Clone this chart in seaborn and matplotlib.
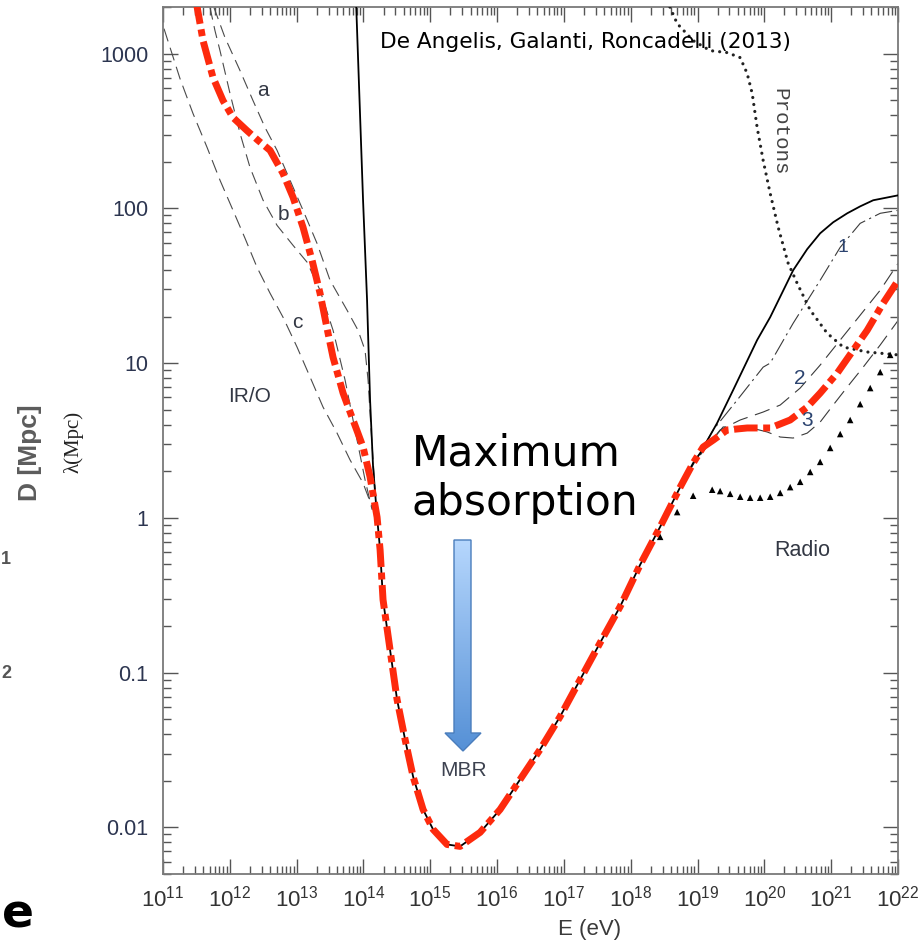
import numpy as np
import matplotlib
matplotlib.use("Agg")
import matplotlib.pyplot as plt
import seaborn as sns
from matplotlib.ticker import FixedLocator, FixedFormatter, LogLocator, NullFormatter
from matplotlib.patches import Polygon
from matplotlib.colors import LinearSegmentedColormap

# ---------------------------------------------------------------------------
# Photon interaction length lambda (Mpc) versus energy; energies are log10(E/eV)
# ---------------------------------------------------------------------------
# total absorption (solid): steep IR/O edge, MBR trough, radio branch
total_left_logE = [13.889, 13.994, 14.054, 14.099, 14.144, 14.204]
total_left_lam = [2198, 112.8, 25.5, 5.77, 2.13, 1.01]

mbr_logE = [14.204, 14.249, 14.293, 14.398, 14.503, 14.623, 14.743, 14.892,
            15.042, 15.251, 15.446, 15.596, 15.746, 16.045, 16.344, 16.644,
            16.943, 17.243, 17.542, 17.841, 18.141, 18.440, 18.740, 18.934]
mbr_lam = [1.01, 0.622, 0.296, 0.1406, 0.0670, 0.0370, 0.0213, 0.01306,
           0.00971, 0.00776, 0.00754, 0.00837, 0.00929, 0.01306, 0.0204, 0.0319,
           0.0520, 0.0902, 0.156, 0.267, 0.498, 0.875, 1.58, 2.26]

total_right_logE = [18.934, 19.039, 19.293, 19.533, 19.892, 20.087, 20.431,
                    20.641, 20.835, 21.030, 21.240, 21.434, 21.629, 22.003]
total_right_lam = [2.26, 2.62, 4.10, 6.70, 14.1, 19.8, 39.8, 54.5, 69.0, 81.3,
                   92.9, 103.0, 112.8, 121.4]

# highlighted horizon (red dash-dot)
red_ir_logE = [11.494, 11.599, 11.749, 11.898, 12.048, 12.257, 12.422, 12.602,
               12.796, 12.946, 13.096, 13.231, 13.350, 13.470, 13.545, 13.695,
               13.844, 13.994, 14.099]
red_ir_lam = [2200, 1213, 700, 497, 386, 318, 275, 237, 168, 118, 75.4, 46.2,
              28.3, 15.6, 10.9, 6.40, 4.29, 2.87, 1.84]
red_radio_logE = [19.084, 19.234, 19.443, 19.743, 20.087, 20.386, 20.641,
                  20.835, 21.090, 21.329, 21.539, 21.778, 22.003]
red_radio_lam = [2.87, 3.18, 3.70, 3.81, 3.81, 4.29, 5.20, 6.40, 8.61, 12.1,
                 16.3, 24.4, 34.3]

# IR/O background models a, b, c (dashed)
a_logE = [11.763, 11.928, 12.153, 12.347, 12.527, 12.707, 12.901, 13.096,
          13.305, 13.500, 13.754, 13.919, 14.024, 14.069, 14.114, 14.174, 14.204]
a_lam = [1982, 1268, 776, 497, 333, 237, 152, 97.1, 59.4, 34.3, 22.0, 16.3,
         12.1, 7.77, 3.70, 1.52, 1.01]
b_logE = [11.704, 11.778, 11.853, 12.003, 12.153, 12.302, 12.497, 12.707,
          12.946, 13.156, 13.350, 13.545, 13.725, 13.874, 14.024, 14.129]
b_lam = [1982, 1406, 1045, 552, 305, 184, 113, 77.6, 57.7, 44.9, 29.6, 16.3,
         7.77, 3.70, 1.76, 1.13]
c_logE = [11.015, 11.254, 11.449, 11.659, 11.853, 12.048, 12.228, 12.407,
          12.602, 12.796, 13.006, 13.201, 13.395, 13.605, 13.799, 13.994, 14.144]
c_lam = [1449, 690, 410, 248, 152, 97.1, 64.0, 41.6, 28.3, 19.8, 12.7, 8.13,
         5.20, 3.53, 2.37, 1.68, 1.13]

# radio background models 1, 2, 3
r1_logE = [18.889, 19.234, 19.593, 19.982, 20.087, 20.431, 20.835, 21.135,
           21.434, 21.734, 22.003]
r1_lam = [2.04, 3.70, 5.77, 9.42, 10.0, 18.1, 34.3, 56.0, 80.0, 92.9, 97.1]
r2_logE = [19.039, 19.338, 19.638, 19.982, 20.237, 20.536, 20.835, 21.135,
           21.434, 21.734, 22.003]
r2_lam = [2.55, 3.70, 4.29, 4.83, 5.36, 6.90, 9.71, 14.1, 20.4, 29.6, 44.2]
r3_logE = [19.039, 19.383, 19.743, 20.042, 20.237, 20.431, 20.641, 20.835,
           21.030, 21.240, 21.479, 21.734, 22.003]
r3_lam = [2.55, 3.87, 3.87, 3.59, 3.33, 3.28, 3.53, 4.16, 5.36, 7.00, 9.42,
          13.1, 18.9]

# lower radio estimate (triangles)
tri_logE = [18.440, 18.695, 18.934, 19.219, 19.338, 19.488, 19.638, 19.787,
            19.937, 20.087, 20.237, 20.386, 20.536, 20.686, 20.835, 20.985,
            21.135, 21.284, 21.434, 21.584, 21.734, 21.883]
tri_lam = [0.754, 1.09, 1.39, 1.52, 1.49, 1.43, 1.37, 1.35, 1.35, 1.37, 1.45,
           1.58, 1.71, 1.98, 2.30, 2.83, 3.48, 4.29, 5.43, 6.90, 8.75, 11.3]

# protons (dotted)
p_logE = [18.545, 18.695, 18.934, 19.189, 19.443, 19.638, 19.743, 19.818,
          19.892, 19.982, 20.087, 20.207, 20.356, 20.491, 20.686, 20.940,
          21.180, 21.539, 22.003]
p_lam = [2198, 1563, 1213, 1045, 1015, 942, 743, 552, 333, 204, 125, 75.4,
         44.2, 32.8, 22.0, 15.6, 12.7, 11.8, 11.3]

# axis ticks
x_exponents = list(range(11, 23))
y_ticks = [0.01, 0.1, 1, 10, 100, 1000]
y_tick_labels = ["0.01", "0.1", "1", "10", "100", "1000"]


def E(logE):
    return 10.0 ** np.asarray(logE, dtype=float)


sns.set_style("ticks")
plt.rcParams["font.family"] = ["Liberation Sans", "DejaVu Sans"]
plt.rcParams["mathtext.fontset"] = "custom"
plt.rcParams["mathtext.rm"] = "Liberation Serif"
plt.rcParams["mathtext.it"] = "Liberation Serif:italic"
plt.rcParams["mathtext.bf"] = "Liberation Serif:bold"

W, H = 918, 943
fig = plt.figure(figsize=(W / 100, H / 100), dpi=100)
fig.patch.set_facecolor("white")
ax = fig.add_axes([163 / W, 1 - 874 / H, (898 - 163) / W, (874 - 7) / H])
ax.set_xscale("log")
ax.set_yscale("log")

GREY_DASH = "#4a4a4a"
RED = "#fd2a0d"


def line(logE, lam, **kw):
    sns.lineplot(x=E(logE), y=np.asarray(lam, float), ax=ax, sort=False,
                 estimator=None, **kw)


# IR/O models
line(a_logE, a_lam, color=GREY_DASH, linewidth=0.8, linestyle=(0, (11, 6)), zorder=2)
line(b_logE, b_lam, color=GREY_DASH, linewidth=0.8, linestyle=(0, (11, 6)), zorder=2)
line(c_logE, c_lam, color=GREY_DASH, linewidth=0.8, linestyle=(0, (12, 6)), zorder=2)

# radio models
line(r1_logE, r1_lam, color="#3a3a3a", linewidth=0.8,
     linestyle=(0, (16, 4, 2, 4)), zorder=2)
line(r2_logE, r2_lam, color="#3a3a3a", linewidth=0.8, linestyle=(0, (14, 7)), zorder=2)
line(r3_logE, r3_lam, color="#3a3a3a", linewidth=0.8, linestyle=(0, (14, 7)), zorder=2)

# total absorption
line(total_left_logE + mbr_logE[1:] + total_right_logE[1:],
     total_left_lam + mbr_lam[1:] + total_right_lam[1:],
     color="black", linewidth=1.3, zorder=3)

# protons
line(p_logE, p_lam, color="#222222", linewidth=2.3,
     linestyle=(0, (0.01, 2.2)), dash_capstyle="round", zorder=3)

# triangles
sns.scatterplot(x=E(tri_logE), y=np.asarray(tri_lam, float), ax=ax, marker="^",
                color="black", s=22, edgecolor="none", zorder=3, legend=False)

# highlighted horizon
line(red_ir_logE + mbr_logE + red_radio_logE,
     red_ir_lam + mbr_lam + red_radio_lam,
     color=RED, linewidth=5.0, linestyle=(0, (3.4, 0.8, 1.0, 0.8)), zorder=4)

# axes styling
ax.set_xlim(1e11, 1e22)
ax.set_ylim(0.005, 2000)
ax.xaxis.set_major_locator(FixedLocator([10.0 ** k for k in x_exponents]))
ax.xaxis.set_major_formatter(FixedFormatter(
    [r"$\mathregular{10^{%d}}$" % k for k in x_exponents]))
ax.xaxis.set_minor_locator(LogLocator(base=10, subs=np.arange(2, 10), numticks=40))
ax.xaxis.set_minor_formatter(NullFormatter())
ax.yaxis.set_major_locator(FixedLocator(y_ticks))
ax.yaxis.set_major_formatter(FixedFormatter(y_tick_labels))
ax.yaxis.set_minor_locator(LogLocator(base=10, subs=np.arange(2, 10), numticks=40))
ax.yaxis.set_minor_formatter(NullFormatter())

ax.tick_params(which="both", direction="in", top=True, right=True,
               color="#555555", width=1.0)
ax.tick_params(which="major", length=11)
ax.tick_params(which="minor", length=5.5)
ax.tick_params(axis="y", which="major", labelsize=15.5, labelcolor="#2c3550", pad=10.5)
ax.tick_params(axis="x", which="major", labelsize=16, labelcolor="#333333", pad=8)
for sp in ax.spines.values():
    sp.set_color("#7a7a7a")
    sp.set_linewidth(1.3)
ax.set_xlabel("")
ax.set_ylabel("")
ax.grid(False)

# overlay in pixel coordinates for annotations
ov = fig.add_axes([0, 0, 1, 1], zorder=5)
ov.set_xlim(0, W)
ov.set_ylim(H, 0)
ov.axis("off")
ov.patch.set_alpha(0)

LBL = "#333844"
ov.text(590, 930, "E (eV)", ha="center", va="center", fontsize=16, color="#3a3a3a")
ov.text(73, 442, "λ(Mpc)", rotation=90, ha="center", va="center", fontsize=15,
        family=["Liberation Serif", "DejaVu Serif"], color="#222222")
ov.text(30, 453, "D [Mpc]", rotation=90, ha="center", va="center", fontsize=19,
        fontweight="bold", color="#5c5c5c")
ov.text(1, 560, "1", ha="left", va="center", fontsize=13, fontweight="bold",
        color="#555555")
ov.text(1, 673, "2", ha="left", va="center", fontsize=13, fontweight="bold",
        color="#555555")
ov.text(2, 915, "e", ha="left", va="center", fontsize=34, fontweight="bold",
        family="DejaVu Sans", color="black")

ov.text(380, 48, "De Angelis, Galanti, Roncadelli (2013)", ha="left",
        va="baseline", fontsize=15.6, family="DejaVu Sans", color="black")
ov.text(412, 465, "Maximum", ha="left", va="baseline", fontsize=30.5,
        family="DejaVu Sans", color="black")
ov.text(412, 515, "absorption", ha="left", va="baseline", fontsize=30.5,
        family="DejaVu Sans", color="black")

ov.text(263, 90, "a", ha="center", va="center", fontsize=15, color=LBL)
ov.text(283, 215, "b", ha="center", va="center", fontsize=15, color=LBL)
ov.text(297, 322, "c", ha="center", va="center", fontsize=15, color=LBL)
ov.text(250, 396, "IR/O", ha="center", va="center", fontsize=15, color=LBL)
ov.text(802, 551, "Radio", ha="center", va="center", fontsize=15.5, color=LBL)
ov.text(464, 771, "MBR", ha="center", va="center", fontsize=15, color="#3d4250")
ov.text(843, 248, "1", ha="center", va="center", fontsize=14, color="#2c4470")
ov.text(800, 378, "2", ha="center", va="center", fontsize=15, color="#2c4470")
ov.text(807, 420, "3", ha="center", va="center", fontsize=15, color="#2c4470")
ov.text(780, 132, "Protons", rotation=-90, ha="center", va="center", fontsize=15,
        family=["Liberation Mono", "DejaVu Sans Mono"], color="#444444")

# gradient arrow pointing to the MBR trough
arrow_xy = [(454, 540), (471, 540), (471, 733), (481, 733), (463, 751),
            (445, 733), (454, 733)]
poly = Polygon(arrow_xy, closed=True, facecolor="none", edgecolor="#4a7dbc",
               linewidth=1.0, zorder=7)
ov.add_patch(poly)
cmap = LinearSegmentedColormap.from_list("arrowgrad", ["#b6d7fd", "#5590d6"])
grad = np.linspace(0, 1, 256).reshape(-1, 1)
im = ov.imshow(grad, extent=(445, 481, 751, 540), cmap=cmap, aspect="auto",
               origin="upper", zorder=6)
im.set_clip_path(poly)
ov.set_xlim(0, W)
ov.set_ylim(H, 0)

fig.savefig("out.png", dpi=100, facecolor="white")
